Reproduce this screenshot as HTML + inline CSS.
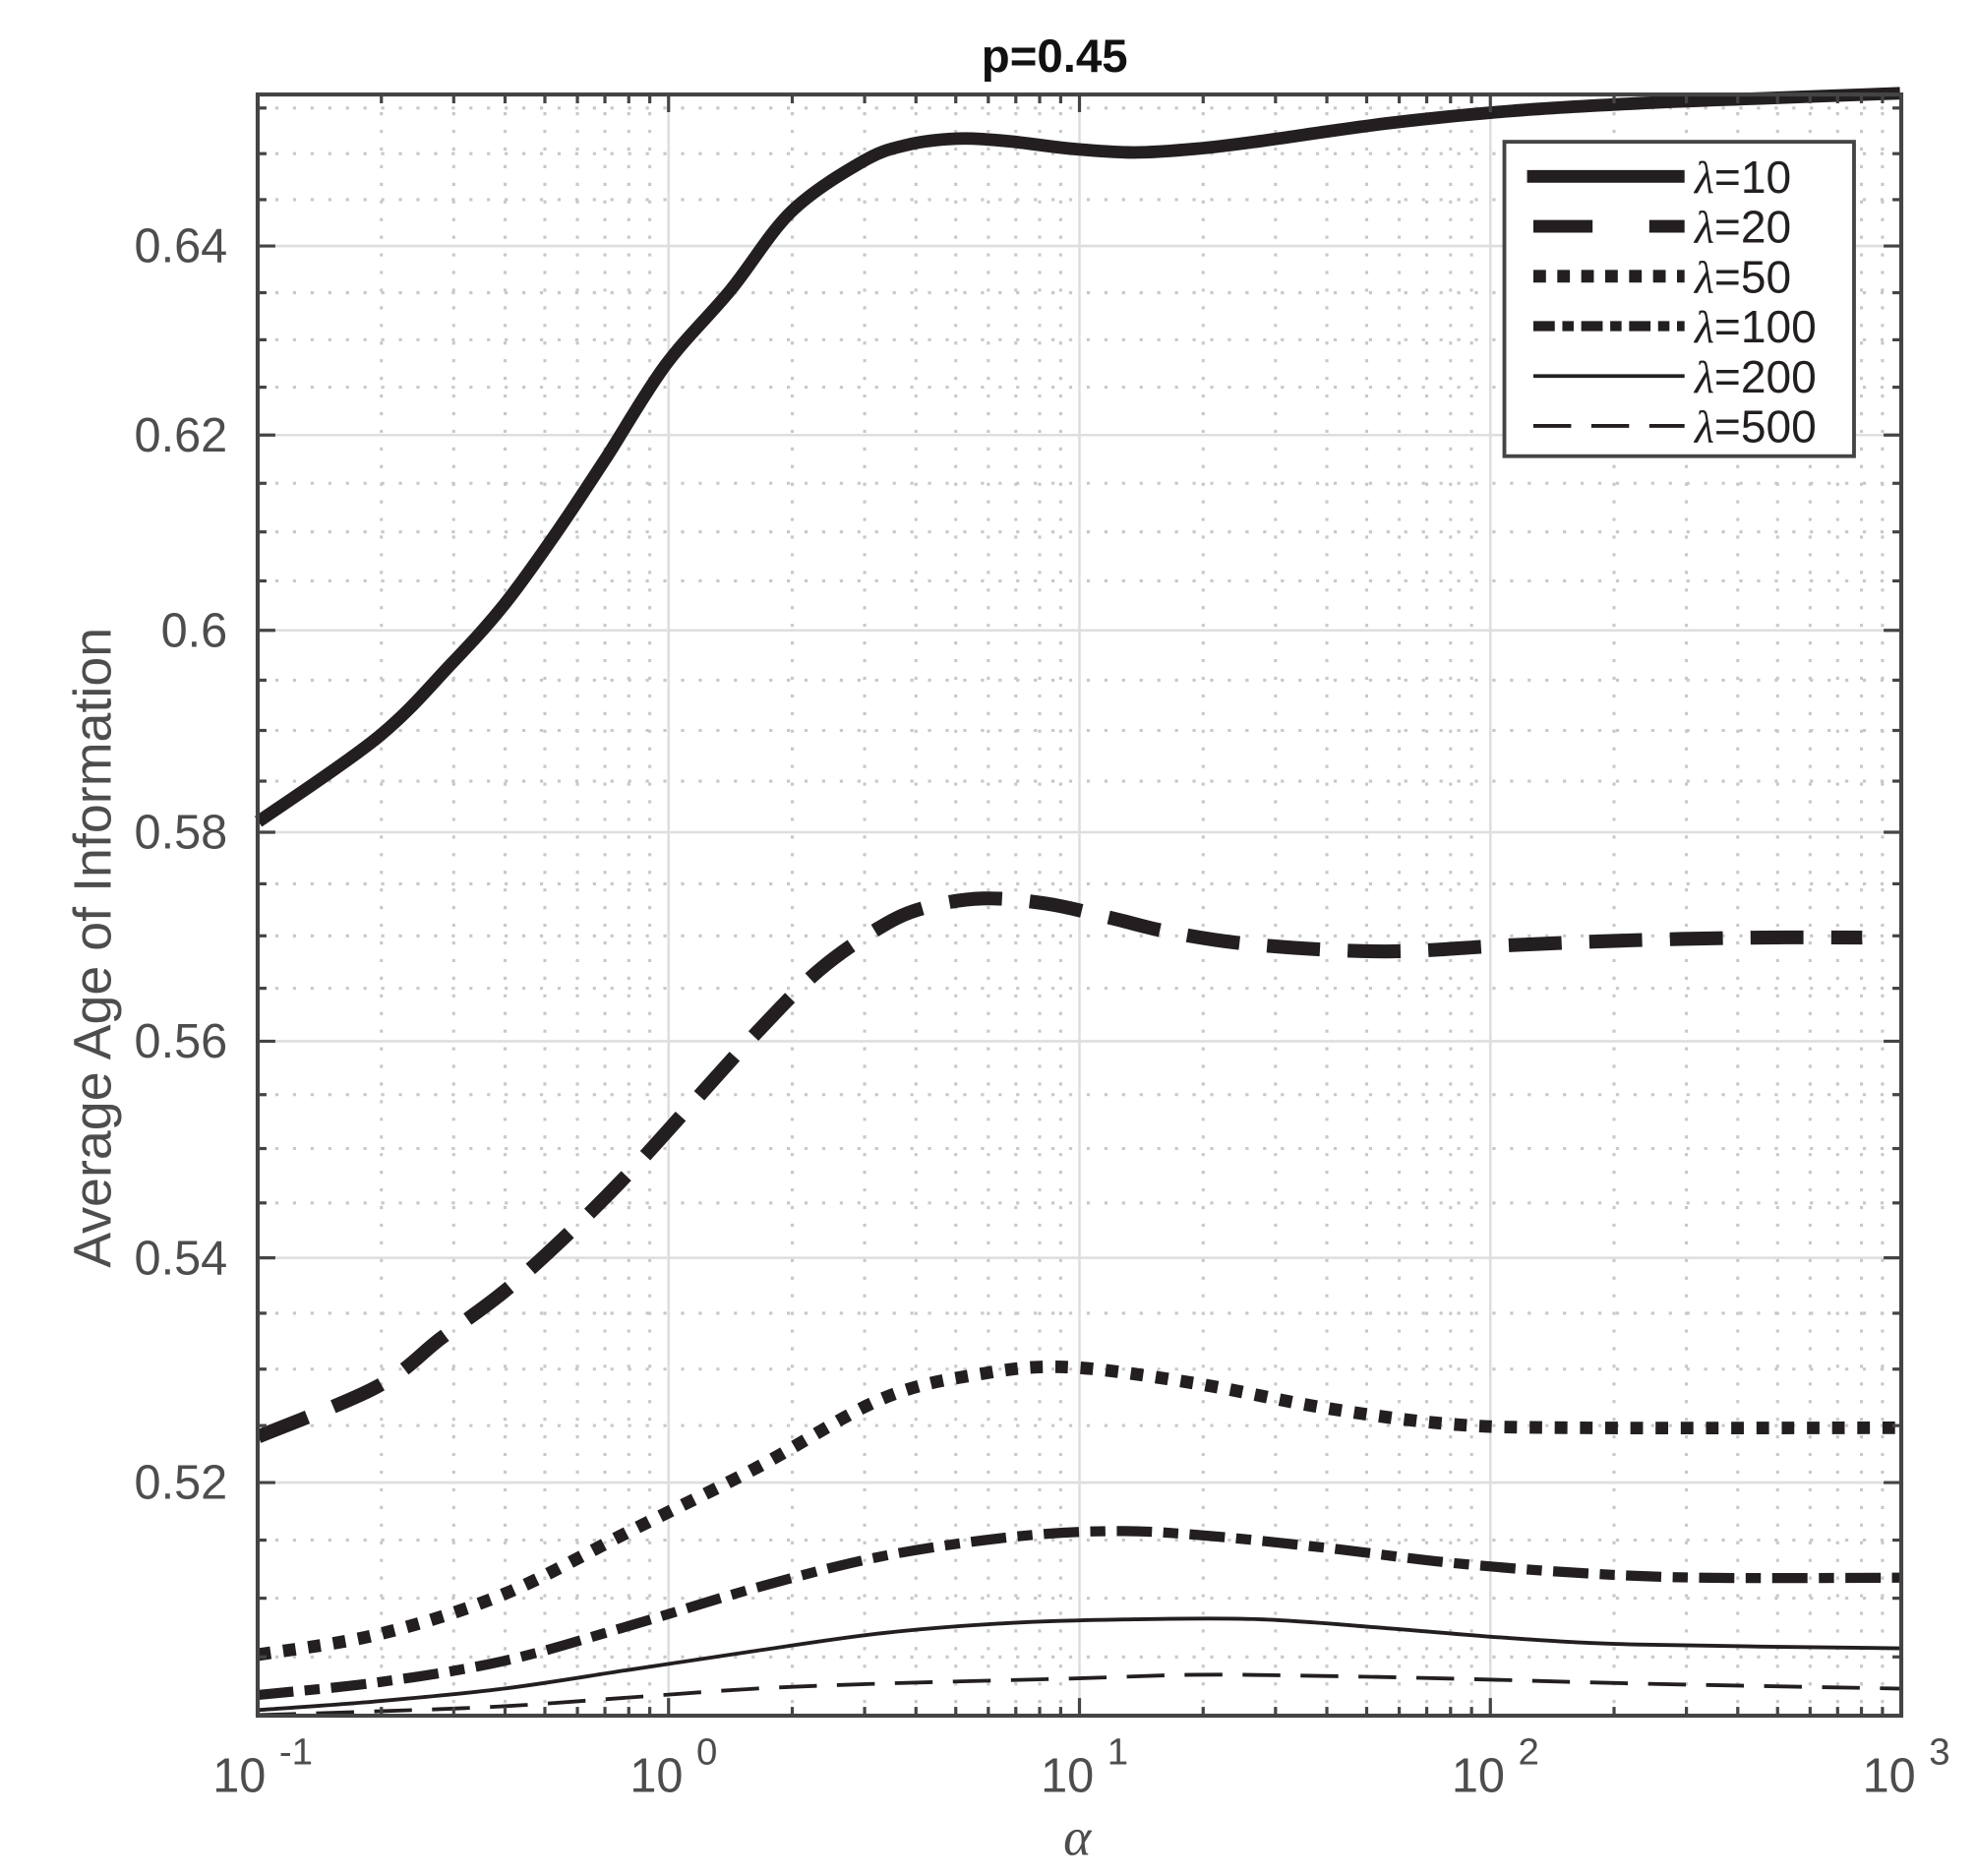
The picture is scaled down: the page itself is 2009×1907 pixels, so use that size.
<!DOCTYPE html>
<html><head><meta charset="utf-8"><style>
html,body{margin:0;padding:0;background:#fff;}
svg{display:block;}
text{font-family:"Liberation Sans",Arial,sans-serif;fill:#4d4d4d;}
</style></head><body>
<svg id="s" width="2009" height="1907" viewBox="0 0 1568.3 1488.7" xmlns="http://www.w3.org/2000/svg">
<rect x="0" y="0" width="1568.3" height="1488.7" fill="#fff"/>
<g id="grid"></g>
<g id="curves" fill="none" stroke="#231f20" stroke-linejoin="round"></g>
<g id="axes"></g>
<text x="837" y="57" text-anchor="middle" font-size="37" font-weight="bold" style="fill:#111">p=0.45</text>
<text transform="translate(88,752) rotate(-90)" text-anchor="middle" font-size="42">Average Age of Information</text>
<text x="855" y="1472" text-anchor="middle" font-size="42" font-style="italic" style="font-family:'Liberation Serif',serif">α</text>
<g id="leg"></g>
</svg>
<script>
const NS="http://www.w3.org/2000/svg";
const L=204.5,R=1509,T=75,B=1361.5,D=(R-L)/4,K=4726,Y64=195.2;
function X(a){return L+(Math.log10(a)+1)*D;}
function Y(v){return Y64+K*(Math.log(0.64)-Math.log(v));}
function el(p,tag,at,txt){const e=document.createElementNS(NS,tag);for(const k in at)e.setAttribute(k,at[k]);if(txt!==undefined)e.textContent=txt;p.appendChild(e);return e;}
const g=document.getElementById('grid'),ax=document.getElementById('axes');
for(let d=-1;d<3;d++){for(let m=2;m<=9;m++){const x=X(m*Math.pow(10,d));
 el(g,'line',{x1:x,y1:T,x2:x,y2:B,stroke:'#c8c8c8','stroke-width':2.4,'stroke-dasharray':'2.5 11.5'});
 el(ax,'line',{x1:x,y1:B,x2:x,y2:B-7,stroke:'#444','stroke-width':2.5});
 el(ax,'line',{x1:x,y1:T,x2:x,y2:T+7,stroke:'#444','stroke-width':2.5});}}
for(let d=0;d<3;d++){const x=X(Math.pow(10,d));
 el(g,'line',{x1:x,y1:T,x2:x,y2:B,stroke:'#dedede','stroke-width':2});
 el(ax,'line',{x1:x,y1:B,x2:x,y2:B-14,stroke:'#444','stroke-width':2.5});
 el(ax,'line',{x1:x,y1:T,x2:x,y2:T+14,stroke:'#444','stroke-width':2.5});}
for(let i=101;i<=131;i++){const v=i*0.005;const y=Y(v);if(y<T+1||y>B-1)continue;
 const major=(i%4==0);
 if(major){el(g,'line',{x1:L,y1:y,x2:R,y2:y,stroke:'#dedede','stroke-width':2});}
 else el(g,'line',{x1:L,y1:y,x2:R,y2:y,stroke:'#c8c8c8','stroke-width':2.4,'stroke-dasharray':'2.5 11.5'});
 const tl=major?14:7;
 el(ax,'line',{x1:L,y1:y,x2:L+tl,y2:y,stroke:'#444','stroke-width':2.5});
 el(ax,'line',{x1:R,y1:y,x2:R-tl,y2:y,stroke:'#444','stroke-width':2.5});
 if(major){el(ax,'text',{x:L-24,y:y+13,'text-anchor':'end','font-size':38},(Math.round(v*100)/100).toString());}
}
el(ax,'rect',{x:L,y:T,width:R-L,height:B-T,fill:'none',stroke:'#444','stroke-width':3.2});
const ex=['-1','0','1','2','3'];
for(let i=0;i<5;i++){const x=L+i*D;const t=el(ax,'text',{x:x+4,y:1422,'text-anchor':'middle','font-size':38});
 t.textContent='10 ';el(t,'tspan',{dy:-22,'font-size':30},ex[i]);}
const C=document.getElementById('curves');
function path(pts,w,dash){let d='M'+pts[0][0]+','+pts[0][1];
 for(let i=0;i<pts.length-1;i++){const p0=pts[Math.max(0,i-1)],p1=pts[i],p2=pts[i+1],p3=pts[Math.min(pts.length-1,i+2)];
  const c1=[p1[0]+(p2[0]-p0[0])/6,p1[1]+(p2[1]-p0[1])/6],c2=[p2[0]-(p3[0]-p1[0])/6,p2[1]-(p3[1]-p1[1])/6];
  d+=' C'+c1+' '+c2+' '+p2;}
 const a={d:d,'stroke-width':w};if(dash)a['stroke-dasharray']=dash;el(C,'path',a);}
path([[205,652],[300,585],[358,527],[400,480],[440,425],[480,365],[528,290],[580,230],[628,168],[685,128],[720,115],[760,110],[800,112],[850,118],[900,121],[950,118],[1000,112],[1100,98],[1200,88],[1300,82],[1400,78],[1508,74]],10);
path([[205,1140],[300,1100],[350,1062],[400,1025],[450,980],[500,930],[550,875],[600,820],[650,770],[700,735],[735,720],[780,713],[830,717],[880,728],[930,740],[1000,750],[1100,755],[1200,750],[1300,746],[1400,744],[1478,744]],11,'42 22');
path([[205,1313],[300,1297],[400,1265],[500,1215],[600,1165],[700,1110],[780,1090],[850,1085],[950,1098],[1050,1117],[1150,1130],[1250,1133],[1508,1133]],10,'10 10');
path([[205,1345],[300,1335],[400,1318],[500,1290],[600,1260],[700,1235],[800,1220],[880,1215],[950,1218],[1050,1228],[1150,1240],[1250,1248],[1350,1252],[1508,1252]],8,'28 9 12 9');
path([[205,1357],[300,1350],[400,1340],[500,1325],[600,1310],[700,1296],[800,1288],[900,1285],[1000,1285],[1100,1292],[1200,1300],[1300,1305],[1508,1308]],3);
path([[205,1361],[300,1358],[400,1354],[500,1347],[600,1340],[700,1336],[850,1332],[950,1329],[1050,1330],[1150,1332],[1300,1336],[1508,1340]],3,'30 16');
const lg=document.getElementById('leg');
el(lg,'rect',{x:1194,y:112.5,width:277.5,height:249.5,fill:'#fff',stroke:'#444','stroke-width':3});
const items=[['10',10,null],['20',10,'47 45'],['50',10,'10 9'],['100',8,'17 6 9 6'],['200',3,null],['500',3,'30 16']];
items.forEach((it,i)=>{const y=140+i*39.6;
 el(lg,'line',{x1:i==0?1212:1217,y1:y,x2:1337,y2:y,stroke:'#231f20','stroke-width':it[1],'stroke-dasharray':it[2]||'none'});
 const t=el(lg,'text',{x:1345,y:y+13,'font-size':36,style:'fill:#231f20'});
 el(t,'tspan',{'font-style':'italic',style:"font-family:'Liberation Serif',serif"},'λ');
 el(t,'tspan',{},'='+it[0]);});
</script>
</body></html>
